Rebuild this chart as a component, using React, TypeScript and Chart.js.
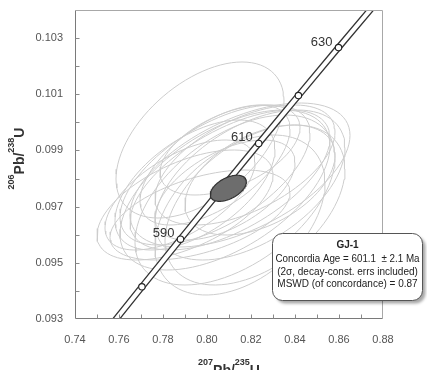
import React, { useEffect, useRef } from 'react';
import { Chart, registerables } from 'chart.js';

Chart.register(...registerables);

// Concordia curve (ages in Ma)
const concAges = [570, 580, 590, 600, 610, 620, 630, 640];
const concX = [0.753063, 0.770413, 0.787936, 0.805632, 0.823501, 0.841548, 0.859775, 0.878184];
const concY = [0.092448, 0.094144, 0.095843, 0.097544, 0.099248, 0.100954, 0.102664, 0.104375];
// decay-constant error envelope (two edges of the band)
const bandLowerX = [0.751463, 0.768813, 0.786336, 0.804032, 0.821901, 0.839948, 0.858175, 0.876584];
const bandUpperX = [0.754663, 0.772013, 0.789536, 0.807232, 0.825101, 0.843148, 0.861375, 0.879784];

const markerAges = [580, 590, 600, 610, 620, 630];
const labelAges = [590, 610, 630];

// individual analyses: centre, half-extent in x and y, error correlation
const ellCX = [0.796818, 0.815000, 0.810455, 0.819545, 0.808182, 0.817273, 0.812727, 0.821818, 0.803636, 0.815000, 0.790000, 0.787727, 0.796818, 0.794545, 0.808182, 0.803636, 0.824091, 0.810455];
const ellCY = [0.099372, 0.098126, 0.097948, 0.097770, 0.097592, 0.098482, 0.097236, 0.097058, 0.098126, 0.096702, 0.097058, 0.097414, 0.096702, 0.097770, 0.097592, 0.098482, 0.097948, 0.099016];
const ellAX = [0.038182, 0.050000, 0.045455, 0.043182, 0.047727, 0.040909, 0.045455, 0.040909, 0.043182, 0.038636, 0.040000, 0.034091, 0.040909, 0.036364, 0.031818, 0.034091, 0.034091, 0.031818];
const ellAY = [0.002777, 0.002563, 0.002492, 0.002670, 0.002848, 0.002136, 0.003026, 0.002848, 0.002492, 0.002848, 0.001958, 0.001958, 0.001602, 0.002314, 0.001780, 0.002136, 0.001958, 0.001602];
const ellRho = [0.50, 0.55, 0.60, 0.50, 0.55, 0.55, 0.50, 0.45, 0.60, 0.40, 0.55, 0.60, 0.50, 0.55, 0.55, 0.60, 0.45, 0.50];

// concordia (mean) ellipse
const meanCX = 0.809682;
const meanCY = 0.097653;
const meanAX = 0.0082;
const meanAY = 0.000465;
const meanRho = 0.49;

const boxLines = [
  'GJ-1',
  'Concordia Age = 601.1  \u00b1 2.1 Ma',
  '(2\u03c3, decay-const. errs included)',
  'MSWD (of concordance) = 0.87',
];

const FONT = "'Liberation Sans', Arial, Helvetica, sans-serif";

function ellipsePoints(cx: number, cy: number, ax: number, ay: number, rho: number) {
  const s = Math.sqrt(1 - rho * rho);
  const pts: { x: number; y: number }[] = [];
  const n = 90;
  for (let i = 0; i <= n; i++) {
    const t = (2 * Math.PI * i) / n;
    pts.push({ x: cx + ax * Math.cos(t), y: cy + ay * (rho * Math.cos(t) + s * Math.sin(t)) });
  }
  return pts;
}

function roundRect(ctx: CanvasRenderingContext2D, x: number, y: number, w: number, h: number, r: number) {
  ctx.beginPath();
  ctx.moveTo(x + r, y);
  ctx.lineTo(x + w - r, y);
  ctx.arcTo(x + w, y, x + w, y + r, r);
  ctx.lineTo(x + w, y + h - r);
  ctx.arcTo(x + w, y + h, x + w - r, y + h, r);
  ctx.lineTo(x + r, y + h);
  ctx.arcTo(x, y + h, x, y + h - r, r);
  ctx.lineTo(x, y + r);
  ctx.arcTo(x, y, x + r, y, r);
  ctx.closePath();
}

function drawSupTitle(ctx: CanvasRenderingContext2D, parts: [string, boolean][], mainSize: number, supSize: number, supRaise: number) {
  const mainFont = `bold ${mainSize}px ${FONT}`;
  const supFont = `bold ${supSize}px ${FONT}`;
  let total = 0;
  for (const [t, sup] of parts) {
    ctx.font = sup ? supFont : mainFont;
    total += ctx.measureText(t).width;
  }
  let x = -total / 2;
  ctx.textAlign = 'left';
  ctx.textBaseline = 'alphabetic';
  for (const [t, sup] of parts) {
    ctx.font = sup ? supFont : mainFont;
    ctx.fillText(t, x, sup ? -supRaise : 0);
    x += ctx.measureText(t).width;
  }
}

const decorPlugin = {
  id: 'decor',
  afterDatasetsDraw(chart: any) {
    const ctx: CanvasRenderingContext2D = chart.ctx;
    const { left, right, top, bottom } = chart.chartArea;
    const xs = chart.scales.x;
    const ys = chart.scales.y;
    ctx.save();
    // age labels
    ctx.font = `13px ${FONT}`;
    ctx.fillStyle = '#333';
    ctx.textAlign = 'right';
    ctx.textBaseline = 'alphabetic';
    labelAges.forEach((age) => {
      const i = concAges.indexOf(age);
      const px = xs.getPixelForValue(concX[i]);
      const py = ys.getPixelForValue(concY[i]);
      ctx.fillText(String(age), px - 6, py - 2);
    });
    // frame
    ctx.lineWidth = 1;
    ctx.strokeStyle = '#a8a8a8';
    ctx.beginPath();
    ctx.moveTo(left + 0.5, top + 0.5);
    ctx.lineTo(right - 0.5, top + 0.5);
    ctx.lineTo(right - 0.5, bottom - 0.5);
    ctx.stroke();
    ctx.strokeStyle = '#7a7a7a';
    ctx.beginPath();
    ctx.moveTo(left + 0.5, top + 0.5);
    ctx.lineTo(left + 0.5, bottom - 0.5);
    ctx.lineTo(right - 0.5, bottom - 0.5);
    ctx.stroke();
    // inward ticks
    ctx.strokeStyle = '#8a8a8a';
    ctx.beginPath();
    xs.ticks.forEach((t: any) => {
      const px = Math.round(xs.getPixelForValue(t.value)) + 0.5;
      if (px <= left + 1 || px >= right - 1) return;
      ctx.moveTo(px, bottom - 0.5);
      ctx.lineTo(px, bottom - 4.5);
    });
    ys.ticks.forEach((t: any) => {
      const py = Math.round(ys.getPixelForValue(t.value)) + 0.5;
      if (py <= top + 1 || py >= bottom - 1) return;
      ctx.moveTo(left + 0.5, py);
      ctx.lineTo(left + 4.5, py);
    });
    ctx.stroke();
    ctx.restore();
  },
  afterDraw(chart: any) {
    const ctx: CanvasRenderingContext2D = chart.ctx;
    const { left, right, top, bottom } = chart.chartArea;
    ctx.save();
    // text box
    const bx = 272.5, by = 233.5, bw = 150, bh = 67;
    ctx.save();
    ctx.shadowColor = 'rgba(0,0,0,0.35)';
    ctx.shadowOffsetX = 3;
    ctx.shadowOffsetY = 3;
    ctx.shadowBlur = 3;
    roundRect(ctx, bx, by, bw, bh, 10);
    ctx.fillStyle = '#ffffff';
    ctx.fill();
    ctx.restore();
    roundRect(ctx, bx, by, bw, bh, 10);
    ctx.strokeStyle = '#555';
    ctx.lineWidth = 1;
    ctx.stroke();
    ctx.fillStyle = '#222';
    ctx.textAlign = 'center';
    ctx.textBaseline = 'alphabetic';
    const cx = bx + bw / 2;
    const baselines = [248, 262, 274.5, 286.5];
    boxLines.forEach((t, i) => {
      ctx.font = i === 0 ? `bold 10px ${FONT}` : `10px ${FONT}`;
      ctx.fillText(t, cx, baselines[i], bw - 6);
    });
    // axis titles
    ctx.fillStyle = '#333';
    ctx.save();
    ctx.translate((left + right) / 2, 375);
    drawSupTitle(ctx, [['207', true], ['Pb/', false], ['235', true], ['U', false]], 14, 9, 10.5);
    ctx.restore();
    ctx.save();
    ctx.translate(24, (top + bottom) / 2 - 6);
    ctx.rotate(-Math.PI / 2);
    drawSupTitle(ctx, [['206', true], ['Pb/', false], ['238', true], ['U', false]], 14, 9, 10.5);
    ctx.restore();
    ctx.restore();
  },
};

export default function App() {
  const ref = useRef<HTMLCanvasElement | null>(null);
  useEffect(() => {
    if (!ref.current) return;
    const grayDs = ellCX.map((cx, i) => ({
      data: ellipsePoints(cx, ellCY[i], ellAX[i], ellAY[i], ellRho[i]),
      showLine: true,
      borderColor: '#cdcdcd',
      borderWidth: 1,
      pointRadius: 0,
      fill: false,
      tension: 0,
      order: 3,
    }));
    const bandPts = [
      ...concAges.map((_, i) => ({ x: bandLowerX[i], y: concY[i] })),
      ...concAges.map((_, i) => ({ x: bandUpperX[i], y: concY[i] })).reverse(),
    ];
    bandPts.push(bandPts[0]);
    const markers = markerAges.map((a) => {
      const i = concAges.indexOf(a);
      return { x: concX[i], y: concY[i] };
    });
    const fixPad = (s: any) => {
      s.paddingTop = 0;
      s.paddingBottom = 0;
      s.paddingLeft = 0;
      s.paddingRight = 0;
    };
    const chart = new Chart(ref.current, {
      type: 'scatter',
      data: {
        datasets: [
          {
            data: ellipsePoints(meanCX, meanCY, meanAX, meanAY, meanRho),
            showLine: true,
            borderColor: '#333',
            borderWidth: 1.2,
            backgroundColor: '#6d6d6d',
            fill: 'shape',
            pointRadius: 0,
            tension: 0,
            order: 0,
          },
          {
            data: markers,
            showLine: false,
            pointRadius: 3.2,
            pointBackgroundColor: '#fff',
            pointBorderColor: '#222',
            pointBorderWidth: 1.1,
            order: 1,
          },
          {
            data: bandPts,
            showLine: true,
            borderColor: '#333',
            borderWidth: 1.3,
            backgroundColor: '#fff',
            fill: 'shape',
            pointRadius: 0,
            tension: 0,
            order: 2,
          },
          ...grayDs,
        ] as any,
      },
      options: {
        animation: false,
        responsive: false,
        maintainAspectRatio: false,
        layout: { padding: { top: 10, right: 44, left: 0, bottom: 0 } },
        plugins: { legend: { display: false }, tooltip: { enabled: false } },
        scales: {
          x: {
            type: 'linear',
            min: 0.74,
            max: 0.88,
            afterFit: (s: any) => { s.height = 51; fixPad(s); },
            grid: { display: false, drawTicks: false },
            border: { display: false },
            ticks: {
              stepSize: 0.01,
              autoSkip: false,
              maxRotation: 0,
              padding: 14,
              color: '#555',
              font: { family: FONT, size: 11 },
              callback: (v: any) => (Math.round(Number(v) * 100) % 2 === 0 ? Number(v).toFixed(2) : ''),
            },
          },
          y: {
            type: 'linear',
            min: 0.093,
            max: 0.104,
            afterFit: (s: any) => { s.width = 75; fixPad(s); },
            grid: { display: false, drawTicks: false },
            border: { display: false },
            ticks: {
              stepSize: 0.001,
              autoSkip: false,
              padding: 12,
              color: '#555',
              font: { family: FONT, size: 11 },
              callback: (v: any) => (Math.round(Number(v) * 1000) % 2 === 1 ? Number(v).toFixed(3) : ''),
            },
          },
        },
      } as any,
      plugins: [decorPlugin],
    });
    return () => chart.destroy();
  }, []);
  return (
    <div style={{ position: 'fixed', left: 0, top: 0, width: 427, height: 370, background: '#fff' }}>
      <canvas ref={ref} width={427} height={370} style={{ display: 'block', width: 427, height: 370 }} />
    </div>
  );
}
